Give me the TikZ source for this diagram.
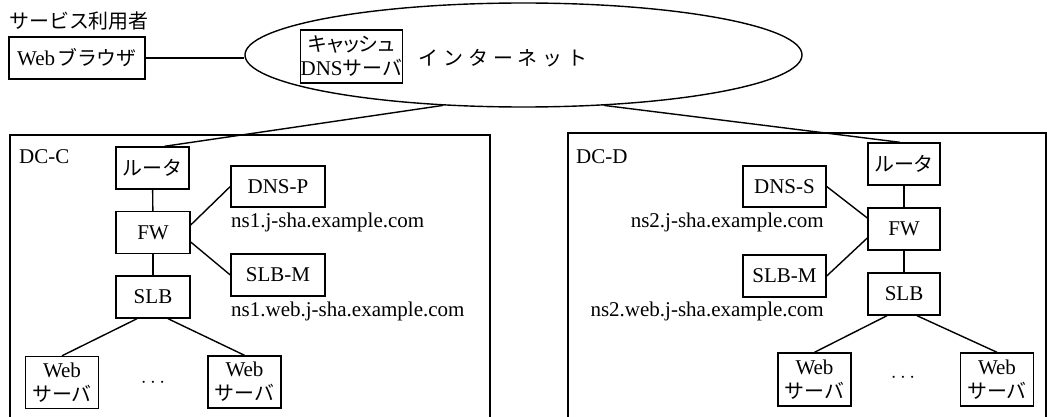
\documentclass[tikz,border=0pt]{standalone}
\usepackage{fontspec}
\setmainfont{Liberation Serif}
\newfontfamily\jp[Scale=0.95]{Noto Sans CJK JP}
\newfontfamily\jpp[Scale=0.95,RawFeature=+palt]{Noto Sans CJK JP}
\usetikzlibrary{shapes.geometric}
\begin{document}
\begin{tikzpicture}[x=1pt,y=-1pt,
  every node/.style={font=\fontsize{21}{24}\selectfont, inner sep=0pt},
  box/.style={draw, line width=1.4pt, align=center},
  ln/.style={line width=1.4pt},
  sm/.style={box, minimum width=74, minimum height=42},
  ws/.style={box, minimum width=73, minimum height=52},
]
\fill[white] (0,0) rectangle (1047,417);
\useasboundingbox (0,0) rectangle (1047,417);

% top part
\node[anchor=west] (user) at (9,21) {\jp サービス利用者};
\node[box, minimum width=136, minimum height=42] (browser) at (77,58) {Web\hspace{2pt}{\jp ブラウザ}};
\node[draw, ellipse, line width=1.4pt, minimum width=557, minimum height=104] (inet) at (523.5,55) {};
\node[box, minimum width=97, minimum height=53] (cache) at (351.5,56.5) {{\jpp キャッシュ}\\DNS{\jp サーバ}};
\node (inettext) at (503,58) {\jp イ\hspace{5pt}ン\hspace{5pt}タ\hspace{5pt}ー\hspace{5pt}ネ\hspace{5pt}ッ\hspace{5pt}ト};

% frames
\draw[ln] (10,420) -- (10,135) -- (490,135) -- (490,420);
\draw[ln] (568,420) -- (568,133) -- (1046,133) -- (1046,420);
\node[anchor=west] (dcC) at (19,157) {DC-C};
\node[anchor=west] (dcD) at (576,157) {DC-D};

% DC-C
\node[sm, minimum width=73] (rC) at (152.5,168) {\jp ルータ};
\node[sm] (fwC) at (153,232.5) {FW};
\node[sm] (slbC) at (153,297) {SLB};
\node[box, minimum width=94, minimum height=41] (dnsP) at (278,186.5) {DNS-P};
\node[box, minimum width=94, minimum height=42] (slbmC) at (278,275) {SLB-M};
\node[anchor=base west] (ns1) at (231,227) {ns1.j-sha.example.com};
\node[anchor=base west] (ns1w) at (231,316) {ns1.web.j-sha.example.com};
\node[ws] (webC1) at (62,382.5) {Web\\{\jp サーバ}};
\node[ws] (webC2) at (244.5,382) {Web\\{\jp サーバ}};
\node (dotsC) at (153,383) {$\cdots$};

% DC-D
\node[sm, minimum width=72] (rD) at (904,164) {\jp ルータ};
\node[sm, minimum width=72] (fwD) at (904,229) {FW};
\node[sm, minimum width=72] (slbD) at (904,294) {SLB};
\node[box, minimum width=83, minimum height=41] (dnsS) at (784.5,186.5) {DNS-S};
\node[box, minimum width=83, minimum height=42] (slbmD) at (784.5,276) {SLB-M};
\node[anchor=base east] (ns2) at (824,227) {ns2.j-sha.example.com};
\node[anchor=base east] (ns2w) at (824,316.5) {ns2.web.j-sha.example.com};
\node[ws, minimum height=53] (webD1) at (814.5,379.5) {Web\\{\jp サーバ}};
\node[ws, minimum height=53] (webD2) at (997,379.5) {Web\\{\jp サーバ}};
\node (dotsD) at (903,378) {$\cdots$};

% connectors
\draw[ln] (browser.east) -- (browser.east -| inet.west);
\draw[ln] (inet.-148) -- ([xshift=12pt]rC.north);
\draw[ln] (inet.-32) -- ([xshift=-4pt]rD.north);

\draw[ln] (rC) -- (fwC);
\draw[ln] (fwC) -- (slbC);
\draw[ln] ([yshift=7.5pt]fwC.east) -- (dnsP.west);
\draw[ln] ([yshift=-9.5pt]fwC.east) -- (slbmC.west);
\draw[ln] ([xshift=-16pt]slbC.south) -- (webC1.north);
\draw[ln] ([xshift=15pt]slbC.south) -- (webC2.north);

\draw[ln] (rD) -- (fwD);
\draw[ln] (fwD) -- (slbD);
\draw[ln] (dnsS.east) -- ([yshift=11pt]fwD.west);
\draw[ln] (slbmD.east) -- ([yshift=-9pt]fwD.west);
\draw[ln] ([xshift=-17pt]slbD.south) -- (webD1.north);
\draw[ln] ([xshift=13pt]slbD.south) -- (webD2.north);
\end{tikzpicture}
\end{document}
